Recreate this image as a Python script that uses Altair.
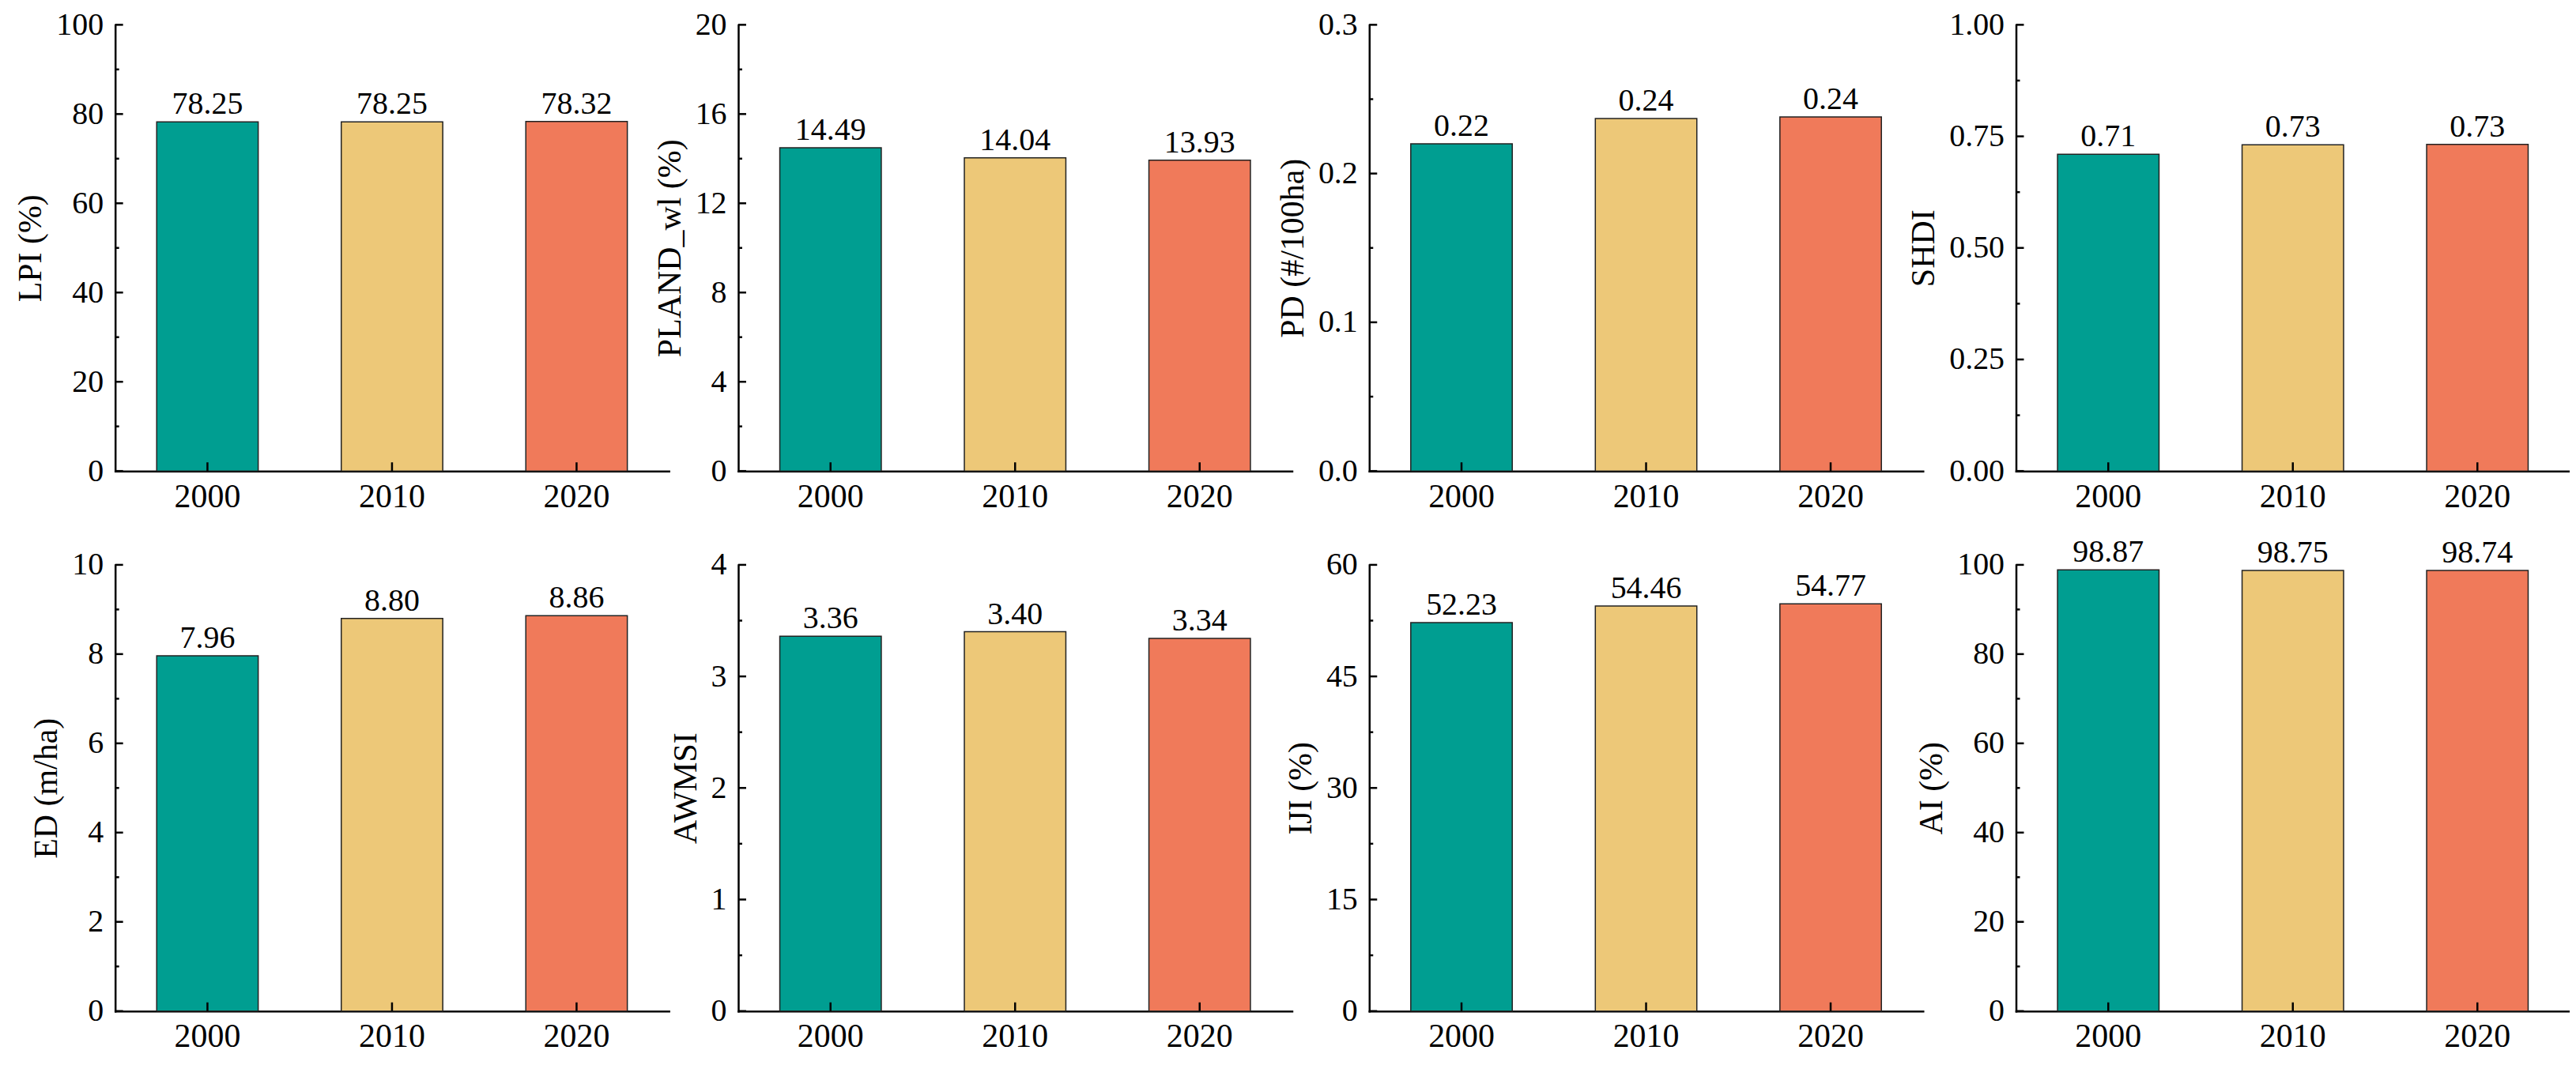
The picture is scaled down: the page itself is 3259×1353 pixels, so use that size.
import altair as alt
import pandas as pd

FONT = "Liberation Serif"

years = ["2000", "2010", "2020"]
colors = ["#009E91", "#EDC878", "#F07A5A"]

titles = ["LPI (%)", "PLAND_wl (%)", "PD (#/100ha)", "SHDI",
          "ED (m/ha)", "AWMSI", "IJI (%)", "AI (%)"]

lpi = [78.25, 78.25, 78.32]
pland_wl = [14.49, 14.04, 13.93]
pd_vals = [0.220, 0.237, 0.238]
shdi = [0.710, 0.731, 0.732]
ed = [7.96, 8.80, 8.86]
awmsi = [3.36, 3.40, 3.34]
iji = [52.23, 54.46, 54.77]
ai = [98.87, 98.75, 98.74]
series = [lpi, pland_wl, pd_vals, shdi, ed, awmsi, iji, ai]

y_max = [100, 20, 0.3, 1.0, 10, 4, 60, 100]
y_step = [20, 4, 0.1, 0.25, 2, 1, 15, 20]
y_fmt = ["d", "d", ".1f", ".2f", "d", "d", "d", "d"]

W, H = 702, 566


def ticks_for(ymax, step):
    n = int(round(ymax / step))
    major = [round(k * step, 6) for k in range(n + 1)]
    minor = [round((k + 0.5) * step, 6) for k in range(n)]
    return major, minor


def panel(i):
    df = pd.DataFrame({"year": years, "value": series[i]})
    major, minor = ticks_for(y_max[i], y_step[i])
    yenc = alt.Y(
        "value:Q",
        scale=alt.Scale(domain=[0, y_max[i]], nice=False, zero=True),
        axis=alt.Axis(
            title=titles[i], values=major, format=y_fmt[i], ticks=False, tickSize=0,
            grid=False, labelPadding=15, titlePadding=10, labelFontSize=40,
            titleFontSize=42, domainWidth=2.5, domainCap="square",
        ),
    )
    xenc = alt.X(
        "year:N",
        scale=alt.Scale(domain=years, paddingInner=0.45, paddingOuter=0.225),
        axis=alt.Axis(
            title=None, labelAngle=0, ticks=False, tickSize=0, grid=False,
            labelPadding=12, labelFontSize=42, domainWidth=2.5, domainCap="square",
        ),
    )
    bars = alt.Chart(df).mark_bar(stroke="#222222", strokeWidth=1.5).encode(
        x=xenc, y=yenc,
        color=alt.Color("year:N", scale=alt.Scale(domain=years, range=colors), legend=None),
    )
    labels = alt.Chart(df).mark_text(
        baseline="alphabetic", dy=-10, fontSize=40, font=FONT, color="black"
    ).encode(x=xenc, y=yenc, text=alt.Text("value:Q", format=".2f"))
    ymaj = alt.Chart(pd.DataFrame({"value": major})).mark_rule(
        color="black", strokeWidth=2.5
    ).encode(y=yenc, x=alt.value(0), x2=alt.value(10))
    ymin = alt.Chart(pd.DataFrame({"value": minor})).mark_rule(
        color="black", strokeWidth=2.5
    ).encode(y=yenc, x=alt.value(0), x2=alt.value(5))
    xt = alt.Chart(df).mark_rule(color="black", strokeWidth=2.5).encode(
        x=xenc, y=alt.value(H), y2=alt.value(H - 11)
    )
    return alt.layer(bars, labels, ymaj, ymin, xt).properties(width=W, height=H)


panels = [panel(i) for i in range(8)]

chart = alt.concat(*panels, columns=4, spacing={"row": 30, "column": -20}).properties(
    padding={"left": 10, "top": 2, "right": 0, "bottom": 0}
).configure_view(stroke=None).configure_axis(
    labelFont=FONT, titleFont=FONT, labelColor="black", titleColor="black",
    titleFontWeight="normal", domainColor="black",
)

chart.save("out.html", embed_options={"renderer": "svg", "actions": False})
